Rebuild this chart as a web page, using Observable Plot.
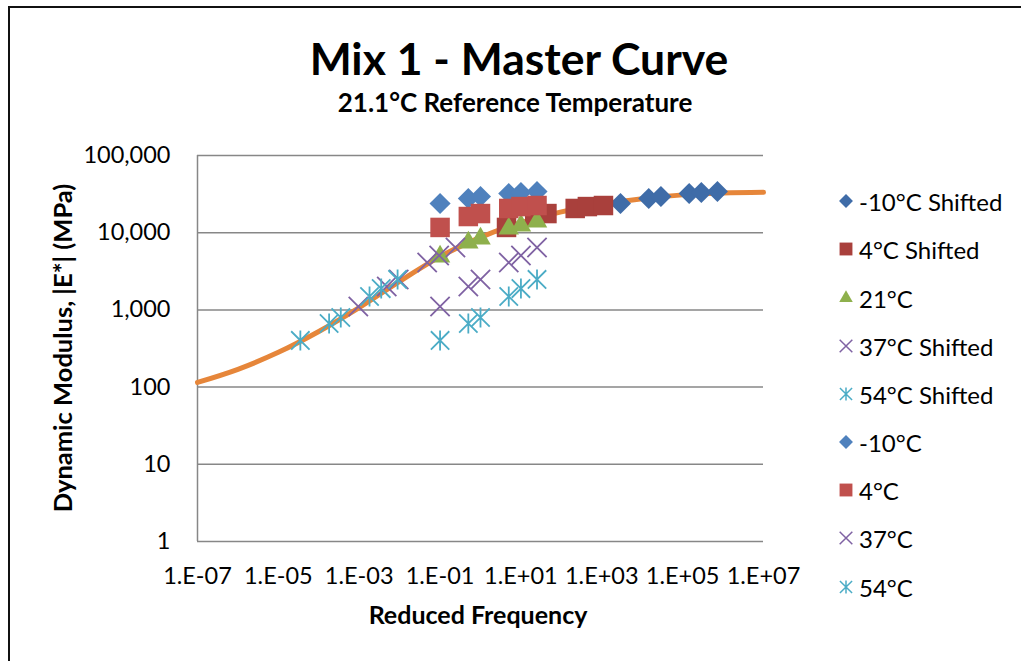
<!DOCTYPE html>
<html>
<head>
<meta charset="utf-8">
<script src="https://cdn.jsdelivr.net/npm/d3@7"></script>
<script src="https://cdn.jsdelivr.net/npm/@observablehq/plot@0.6"></script>
<style>
  body { margin: 0; background: #fff; }
  #wrap { position: relative; width: 1021px; height: 661px; overflow: hidden; font-family: Lato, "Open Sans", sans-serif; color: #000; }
  #frame { position: absolute; left: 8px; top: 6px; width: 1100px; height: 800px; border: 2px solid #111; box-sizing: border-box; }
  .t { position: absolute; white-space: nowrap; line-height: 1; font-weight: bold; text-align: center; }
  #title { left: 0; width: 1038px; top: 36px; font-size: 44.5px; }
  #subtitle { left: 0; width: 1030px; top: 89px; font-size: 26px; }
  #xtitle { left: 0; width: 956px; top: 602px; font-size: 25px; }
  #ytitle { left: -137px; width: 400px; top: 335px; font-size: 25.5px; transform: rotate(-90deg); transform-origin: 200px 13px; }
  #chart { position: absolute; left: 0; top: 0; }
  #legend { position: absolute; left: 834px; top: 0; }
  .li { position: absolute; left: 0; height: 30px; display: flex; align-items: center; font-size: 24px; white-space: nowrap; }
  .li svg { width: 24px; height: 24px; margin-right: 1px; }
</style>
</head>
<body>
<div id="wrap">
  <div id="frame"></div>
  <div id="chart"></div>
  <div class="t" id="title">Mix 1 - Master Curve</div>
  <div class="t" id="subtitle">21.1°C Reference Temperature</div>
  <div class="t" id="xtitle">Reduced Frequency</div>
  <div class="t" id="ytitle">Dynamic Modulus, |E*| (MPa)</div>
  <div id="legend"></div>
</div>
<script>
// ---- Data ----
const testFreq = [0.1, 0.5, 1, 5, 10, 25];               // Hz, unshifted
const eMinus10 = [23900, 27700, 29400, 32200, 33200, 34200]; // MPa
const e4 = [11700, 16200, 17700, 20600, 21800, 22500];
const e21 = [4920, 7460, 8410, 11300, 12400, 13950];
const e37 = [1110, 2010, 2480, 4110, 5070, 6430];
const e54 = [402, 667, 798, 1490, 1890, 2480];

// reduced (shifted) frequencies
const freqMinus10Shifted = [2900, 14500, 29000, 145000, 290000, 725000];
const freq4Shifted = [4.4, 22, 44, 220, 440, 1100];
const freq37Shifted = [0.00095, 0.0048, 0.0095, 0.048, 0.095, 0.24];
const freq54Shifted = [3.5e-5, 1.8e-4, 3.5e-4, 1.8e-3, 3.5e-3, 8.9e-3];

// master curve readings
const curveFreq = [1e-7, 1e-6, 1e-5, 1e-4, 1e-3, 1e-2, 1e-1, 1e0, 1e1, 1e2, 1e3, 1e4, 1e5, 1e6, 1e7];
const curveE = [115, 170, 282, 525, 1070, 2340, 4900, 8700, 13500, 18600, 23400, 27500, 30900, 32600, 33300];

const xTicks = [1e-7, 1e-5, 1e-3, 1e-1, 1e1, 1e3, 1e5, 1e7];
const yTicks = [1, 10, 100, 1000, 10000, 100000];

const seriesNames = ["-10°C Shifted", "4°C Shifted", "21°C", "37°C Shifted", "54°C Shifted", "-10°C", "4°C", "37°C", "54°C"];
const seriesColors = ["#3F6CA8", "#A9403C", "#8EB04C", "#7F62A3", "#4BACC6", "#4F81BD", "#C0504D", "#7F62A3", "#4BACC6"];
const curveColor = "#E6863A";

// ---- Build tables ----
const excelStar = {
  draw(context, size) {
    const r = Math.sqrt(size / Math.PI);
    const d = r * 0.92;
    context.moveTo(0, -r); context.lineTo(0, r);
    context.moveTo(-d, -d); context.lineTo(d, d);
    context.moveTo(-d, d); context.lineTo(d, -d);
  }
};
const seriesX = [freqMinus10Shifted, freq4Shifted, testFreq, freq37Shifted, freq54Shifted, testFreq, testFreq, testFreq, testFreq];
const seriesY = [eMinus10, e4, e21, e37, e54, eMinus10, e4, e37, e54];
const seriesSym = ["diamond2", "square", "triangle", "times", excelStar, "diamond2", "square", "times", excelStar];
const seriesR = [9.5, 11, 7.6, 8.8, 10, 9.5, 11, 8.8, 10];
const filled = s => !(s === "times" || s === excelStar);

const curve = curveFreq.map((f, i) => ({f, e: curveE[i]}));

const dotMarks = seriesNames.map((name, k) => {
  const data = seriesX[k].map((f, i) => ({f, e: seriesY[k][i]}));
  const sym = seriesSym[k];
  return Plot.dot(data, {
    x: "f", y: "e", symbol: sym, r: seriesR[k],
    fill: filled(sym) ? seriesColors[k] : "none",
    stroke: filled(sym) ? "none" : seriesColors[k],
    strokeWidth: filled(sym) ? 0 : 1.8
  });
});

const fmtX = d => {
  const e = Math.round(Math.log10(d));
  return "1.E" + (e < 0 ? "-" : "+") + String(Math.abs(e)).padStart(2, "0");
};

const chart = Plot.plot({
  width: 830,
  height: 661,
  marginLeft: 197,
  marginRight: 67,
  marginTop: 155,
  marginBottom: 120,
  style: { fontFamily: "Lato, 'Open Sans', sans-serif", fontSize: "23.5px", color: "#000", background: "transparent", overflow: "visible" },
  x: { type: "log", domain: [1e-7, 1e7], ticks: xTicks, tickFormat: fmtX, tickSize: 0, tickPadding: 26, label: null },
  y: { type: "log", domain: [1, 1e5], ticks: yTicks, tickFormat: d3.format(","), tickSize: 0, tickPadding: 27, label: null },
  marks: [
    Plot.ruleY(yTicks, { stroke: "#878787", strokeWidth: 1.5 }),
    Plot.ruleX([xTicks[0]], { stroke: "#878787", strokeWidth: 1.5 }),
    Plot.line(curve, { x: "f", y: "e", stroke: curveColor, strokeWidth: 5, curve: "monotone-x" }),
    ...dotMarks
  ]
});
document.getElementById("chart").appendChild(chart);

// ---- Legend ----
const legend = document.getElementById("legend");
const legendTop = [201, 249, 298, 346, 394, 442, 490, 538, 587];
seriesNames.forEach((name, k) => {
  const row = document.createElement("div");
  row.className = "li";
  row.style.top = (legendTop[k] - 15) + "px";
  const sym = seriesSym[k];
  const symObj = typeof sym === "string" ? ({diamond2: d3.symbolDiamond2, square: d3.symbolSquare, triangle: d3.symbolTriangle, times: d3.symbolTimes})[sym] : sym;
  const rr = seriesR[k] * 0.66;
  const path = d3.symbol(symObj, Math.PI * rr * rr)();
  const isF = filled(sym);
  row.innerHTML = `<svg viewBox="-12 -12 24 24"><path d="${path}" fill="${isF ? seriesColors[k] : "none"}" stroke="${isF ? "none" : seriesColors[k]}" stroke-width="1.5"/></svg><span>${name}</span>`;
  legend.appendChild(row);
});
</script>
</body>
</html>
